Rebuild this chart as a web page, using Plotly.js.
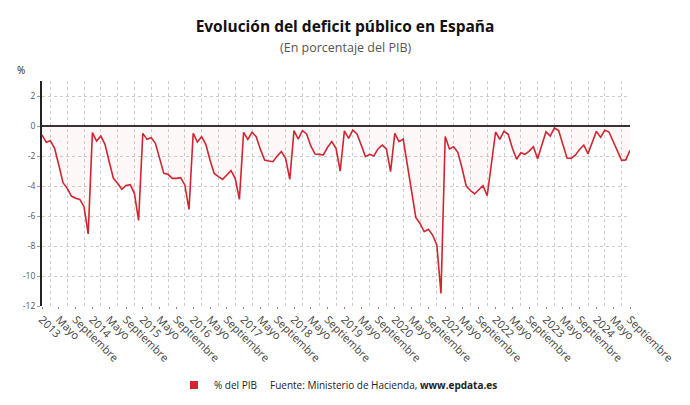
<!DOCTYPE html>
<html>
<head>
<meta charset="utf-8">
<script src="https://cdn.plot.ly/plotly-3.0.1.min.js"></script>
<style>
html,body{margin:0;padding:0;background:#ffffff;}
#chart{width:690px;height:405px;}
</style>
</head>
<body>
<div id="chart"></div>
<script>
// ---- Data (déficit público, % del PIB, acumulado mensual) ----
const years = [2013, 2014, 2015, 2016, 2017, 2018, 2019, 2020, 2021, 2022, 2023, 2024];
const monthNames = ['Enero','Febrero','Marzo','Abril','Mayo','Junio','Julio','Agosto','Septiembre','Octubre','Noviembre','Diciembre'];

const d2013 = [-0.60, -1.09, -0.98, -1.49, -2.60, -3.78, -4.16, -4.67, -4.82, -4.89, -5.38, -7.20];
const d2014 = [-0.44, -1.00, -0.67, -1.22, -2.38, -3.49, -3.82, -4.22, -3.96, -3.91, -4.49, -6.30];
const d2015 = [-0.49, -0.89, -0.78, -1.16, -2.16, -3.16, -3.22, -3.49, -3.49, -3.44, -3.93, -5.56];
const d2016 = [-0.49, -1.07, -0.71, -1.22, -2.27, -3.16, -3.38, -3.56, -3.27, -2.98, -3.49, -4.89];
const d2017 = [-0.42, -0.89, -0.42, -0.71, -1.56, -2.27, -2.33, -2.38, -2.00, -1.71, -2.16, -3.56];
const d2018 = [-0.31, -0.87, -0.31, -0.53, -1.33, -1.87, -1.89, -1.93, -1.42, -1.04, -1.49, -3.00];
const d2019 = [-0.33, -0.82, -0.27, -0.53, -1.27, -2.04, -1.89, -2.00, -1.53, -1.27, -1.53, -3.04];
const d2020 = [-0.49, -1.04, -0.87, -2.71, -4.40, -6.10, -6.50, -7.05, -6.89, -7.27, -7.93, -11.16];
const d2021 = [-0.70, -1.53, -1.38, -1.75, -2.80, -4.00, -4.30, -4.53, -4.25, -3.98, -4.65, -2.60];
const d2022 = [-0.40, -0.89, -0.35, -0.55, -1.49, -2.22, -1.78, -1.89, -1.67, -1.38, -2.18, -1.28];
const d2023 = [-0.38, -0.67, -0.13, -0.30, -1.16, -2.14, -2.16, -1.95, -1.56, -1.27, -1.85, -1.10];
const d2024 = [-0.36, -0.76, -0.29, -0.40, -1.04, -1.71, -2.29, -2.26, -1.62];

const seriesByYear = [d2013, d2014, d2015, d2016, d2017, d2018, d2019, d2020, d2021, d2022, d2023, d2024];

const xTickLabels = [
  '2013','Mayo','Septiembre','2014','Mayo','Septiembre','2015','Mayo','Septiembre',
  '2016','Mayo','Septiembre','2017','Mayo','Septiembre','2018','Mayo','Septiembre',
  '2019','Mayo','Septiembre','2020','Mayo','Septiembre','2021','Mayo','Septiembre',
  '2022','Mayo','Septiembre','2023','Mayo','Septiembre','2024','Mayo','Septiembre'
];
const xTickMonths = ['Enero','Mayo','Septiembre'];
const yTickValues = [-12, -10, -8, -6, -4, -2, 0, 2];
const yTickLabels = ['-12', '-10', '-8', '-6', '-4', '-2', '0', '2'];

// ---- Build flat series (category -> sequential position) ----
const categories = [];
const values = [];
seriesByYear.forEach((arr, k) => {
  arr.forEach((v, m) => {
    categories.push(monthNames[m] + ' ' + years[k]);
    values.push(v);
  });
});
const xPos = categories.map((c, i) => i);
const tickPos = [];
categories.forEach((c, i) => {
  if (xTickMonths.indexOf(c.split(' ')[0]) >= 0) tickPos.push(i);
});

const RED = '#cf2632';

const traces = [
  {
    type: 'scatter',
    mode: 'lines',
    x: xPos,
    y: values,
    text: categories,
    name: '% del PIB',
    line: {color: RED, width: 1.6},
    fill: 'tozeroy',
    fillcolor: 'rgba(220,60,70,0.045)',
    showlegend: false,
    hoverinfo: 'text+y'
  },
  {
    type: 'scatter',
    mode: 'markers',
    x: [null],
    y: [null],
    name: '% del PIB',
    marker: {color: RED, symbol: 'square', size: 8},
    showlegend: true,
    hoverinfo: 'skip'
  }
];

const layout = {
  width: 690,
  height: 405,
  margin: {l: 42, r: 60, t: 81, b: 99, pad: 0},
  paper_bgcolor: '#ffffff',
  plot_bgcolor: '#ffffff',
  font: {family: 'Open Sans, Noto Sans, sans-serif', color: '#333'},
  title: {
    text: '<b>Evolución del deficit público en España</b>',
    xref: 'container', x: 0.5, xanchor: 'center',
    yref: 'container', y: 1 - 27 / 405, yanchor: 'middle',
    font: {family: 'Open Sans, sans-serif', size: 15.5, color: '#111'}
  },
  xaxis: {
    automargin: false,
    range: [0, categories.length - 1],
    tickmode: 'array',
    tickvals: tickPos,
    ticktext: xTickLabels,
    tickangle: 45,
    tickfont: {size: 11, color: '#444'},
    showgrid: false,
    zeroline: false,
    showline: false,
    ticks: 'outside',
    ticklen: 2,
    tickcolor: '#888',
    minor: {
      tickmode: 'linear', tick0: 2, dtick: 4,
      showgrid: true, gridcolor: '#cccccc', griddash: 'dot', gridwidth: 1,
      ticks: ''
    },
    fixedrange: true
  },
  yaxis: {
    automargin: false,
    range: [-12, 3],
    tickmode: 'array',
    tickvals: yTickValues,
    ticktext: yTickLabels,
    tickfont: {size: 8.5, color: '#555'},
    showgrid: true,
    gridcolor: '#cccccc',
    griddash: 'dot',
    gridwidth: 1,
    zeroline: true,
    zerolinecolor: '#333',
    zerolinewidth: 1.5,
    showline: true,
    linecolor: '#222',
    linewidth: 2,
    ticks: 'outside',
    ticklen: 3,
    tickcolor: '#999',
    fixedrange: true
  },
  showlegend: true,
  legend: {
    orientation: 'h',
    xref: 'container', x: 174 / 690, xanchor: 'left',
    yref: 'container', y: 1 - 385 / 405, yanchor: 'middle',
    itemsizing: 'trace',
    font: {size: 10, color: '#222'},
    bgcolor: 'rgba(0,0,0,0)'
  },
  annotations: [
    {
      text: '(En porcentaje del PIB)',
      xref: 'paper', yref: 'paper',
      x: (345 - 42) / 588, y: 1 + (81 - 48) / 225,
      xanchor: 'center', yanchor: 'middle',
      showarrow: false,
      font: {size: 12.5, color: '#555'}
    },
    {
      text: '%',
      xref: 'paper', yref: 'paper',
      x: (21 - 42) / 588, y: 1 + (81 - 70) / 225,
      xanchor: 'center', yanchor: 'middle',
      showarrow: false,
      font: {size: 10, color: '#222'}
    },
    {
      text: 'Fuente: Ministerio de Hacienda, <b>www.epdata.es</b>',
      xref: 'paper', yref: 'paper',
      x: (268 - 42) / 588, y: -(385 - 306) / 225,
      xanchor: 'left', yanchor: 'middle',
      showarrow: false,
      font: {size: 10, color: '#222'}
    }
  ]
};

Plotly.newPlot('chart', traces, layout, {displayModeBar: false, staticPlot: true});
</script>
</body>
</html>
